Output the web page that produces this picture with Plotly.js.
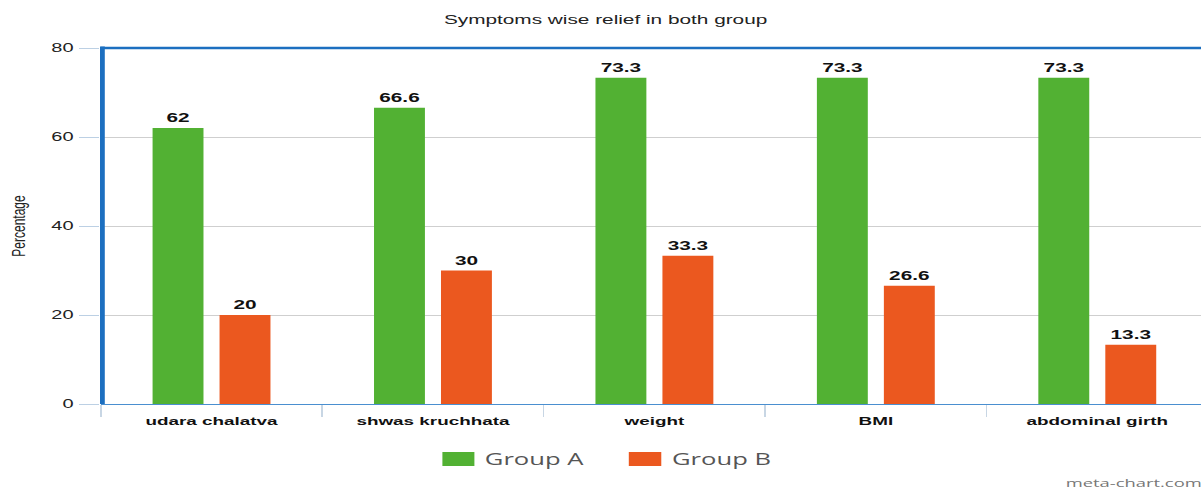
<!DOCTYPE html>
<html>
<head>
<meta charset="utf-8">
<script src="https://cdn.plot.ly/plotly-3.0.1.min.js"></script>
<style>
  html, body { margin: 0; padding: 0; overflow: hidden; width: 1201px; height: 489px; background: #fff; }
  #chart { width: 757px; height: 489px; transform: scaleX(1.6); transform-origin: 0 0; }
</style>
</head>
<body>
<div id="chart"></div>
<script>
// Data
const categories = ["udara chalatva", "shwas kruchhata", "weight", "BMI", "abdominal girth"];
const groupA = [62, 66.6, 73.3, 73.3, 73.3];
const groupB = [20, 30, 33.3, 26.6, 13.3];
const seriesNames = ["Group A", "Group B"];
const yTicks = [0, 20, 40, 60, 80];

const GREEN = "#52b133";
const ORANGE = "#eb581f";
const BLUE = "#1c6fc0";

const labelFont = { family: "Liberation Sans, Arial, sans-serif", size: 13, color: "#111", weight: "bold" };

const traces = [
  {
    type: "bar", name: seriesNames[0], x: categories, y: groupA,
    marker: { color: GREEN },
    text: groupA.map(String), texttemplate: "%{text}", textposition: "outside",
    textfont: labelFont, constraintext: "none", cliponaxis: false, hoverinfo: "x+y"
  },
  {
    type: "bar", name: seriesNames[1], x: categories, y: groupB,
    marker: { color: ORANGE },
    text: groupB.map(String), texttemplate: "%{text}", textposition: "outside",
    textfont: labelFont, constraintext: "none", cliponaxis: false, hoverinfo: "x+y"
  }
];

const legendFont = { family: "Open Sans, DejaVu Sans, sans-serif", size: 16, color: "#555" };
const layout = {
  width: 757, height: 489,
  margin: { l: 63, r: 2, t: 48, b: 85 },
  paper_bgcolor: "#fff", plot_bgcolor: "#fff",
  barmode: "group", bargap: 0.395, bargroupgap: 0.24,
  showlegend: false,
  title: {
    text: "Symptoms wise relief in both group",
    font: { family: "Liberation Sans, Arial, sans-serif", size: 13, color: "#222" },
    x: 0.5, xref: "container", xanchor: "center",
    y: 1 - 19 / 489, yref: "container", yanchor: "middle"
  },
  xaxis: {
    type: "category",
    showgrid: false, zeroline: false,
    showline: true, linecolor: "#4a8fd0", linewidth: 1.2,
    ticks: "outside", tickson: "boundaries", ticklen: 12, tickcolor: "#c8d6e4", tickwidth: 1,
    ticklabelstandoff: 6,
    tickfont: { family: "Liberation Sans, Arial, sans-serif", size: 11.8, color: "#111", weight: "bold" },
    fixedrange: true
  },
  yaxis: {
    range: [0, 80], tickvals: yTicks, ticktext: yTicks.map(String),
    showgrid: true, gridcolor: "#cfcfcf", gridwidth: 1,
    zeroline: false,
    showline: false,
    ticks: "outside", ticklen: 12.5, tickcolor: "#bcd0e4", tickwidth: 1,
    ticklabelstandoff: 1,
    tickfont: { family: "Liberation Sans, Arial, sans-serif", size: 12.5, color: "#222" },
    title: {
      text: "Percentage", standoff: 12.5,
      font: { family: "Liberation Sans, Arial, sans-serif", size: 12, color: "#222" }
    },
    automargin: false, fixedrange: true
  },
  shapes: [
    { type: "line", xref: "paper", yref: "paper", x0: 0, x1: 1, y0: 1, y1: 1,
      line: { color: BLUE, width: 2.5 }, layer: "above" },
    { type: "line", xref: "paper", yref: "paper", x0: 1 / 692, x1: 1 / 692, y0: 0, y1: 1.004,
      line: { color: BLUE, width: 3 }, layer: "above" },
    { type: "rect", xref: "paper", yref: "paper",
      x0: (276.5 - 63) / 692, x1: (296.5 - 63) / 692,
      y0: (404 - 452) / 356, y1: (404 - 466) / 356,
      fillcolor: GREEN, line: { width: 0 } },
    { type: "rect", xref: "paper", yref: "paper",
      x0: (393 - 63) / 692, x1: (413.3 - 63) / 692,
      y0: (404 - 452) / 356, y1: (404 - 466) / 356,
      fillcolor: ORANGE, line: { width: 0 } }
  ],
  annotations: [
    { text: seriesNames[0], xref: "paper", yref: "paper",
      x: (301 - 63) / 692, y: (404 - 458.5) / 356, xanchor: "left", yanchor: "middle",
      showarrow: false, font: legendFont },
    { text: seriesNames[1], xref: "paper", yref: "paper",
      x: (417.5 - 63) / 692, y: (404 - 458.5) / 356, xanchor: "left", yanchor: "middle",
      showarrow: false, font: legendFont },
    { text: "meta-chart.com", xref: "paper", yref: "paper",
      x: (663.5 - 63) / 692, y: (404 - 482) / 356, xanchor: "left", yanchor: "middle",
      showarrow: false, font: { family: "Open Sans, DejaVu Sans, sans-serif", size: 11.5, color: "#777" } }
  ]
};

Plotly.newPlot("chart", traces, layout, { displayModeBar: false, staticPlot: true, responsive: false });
</script>
</body>
</html>
